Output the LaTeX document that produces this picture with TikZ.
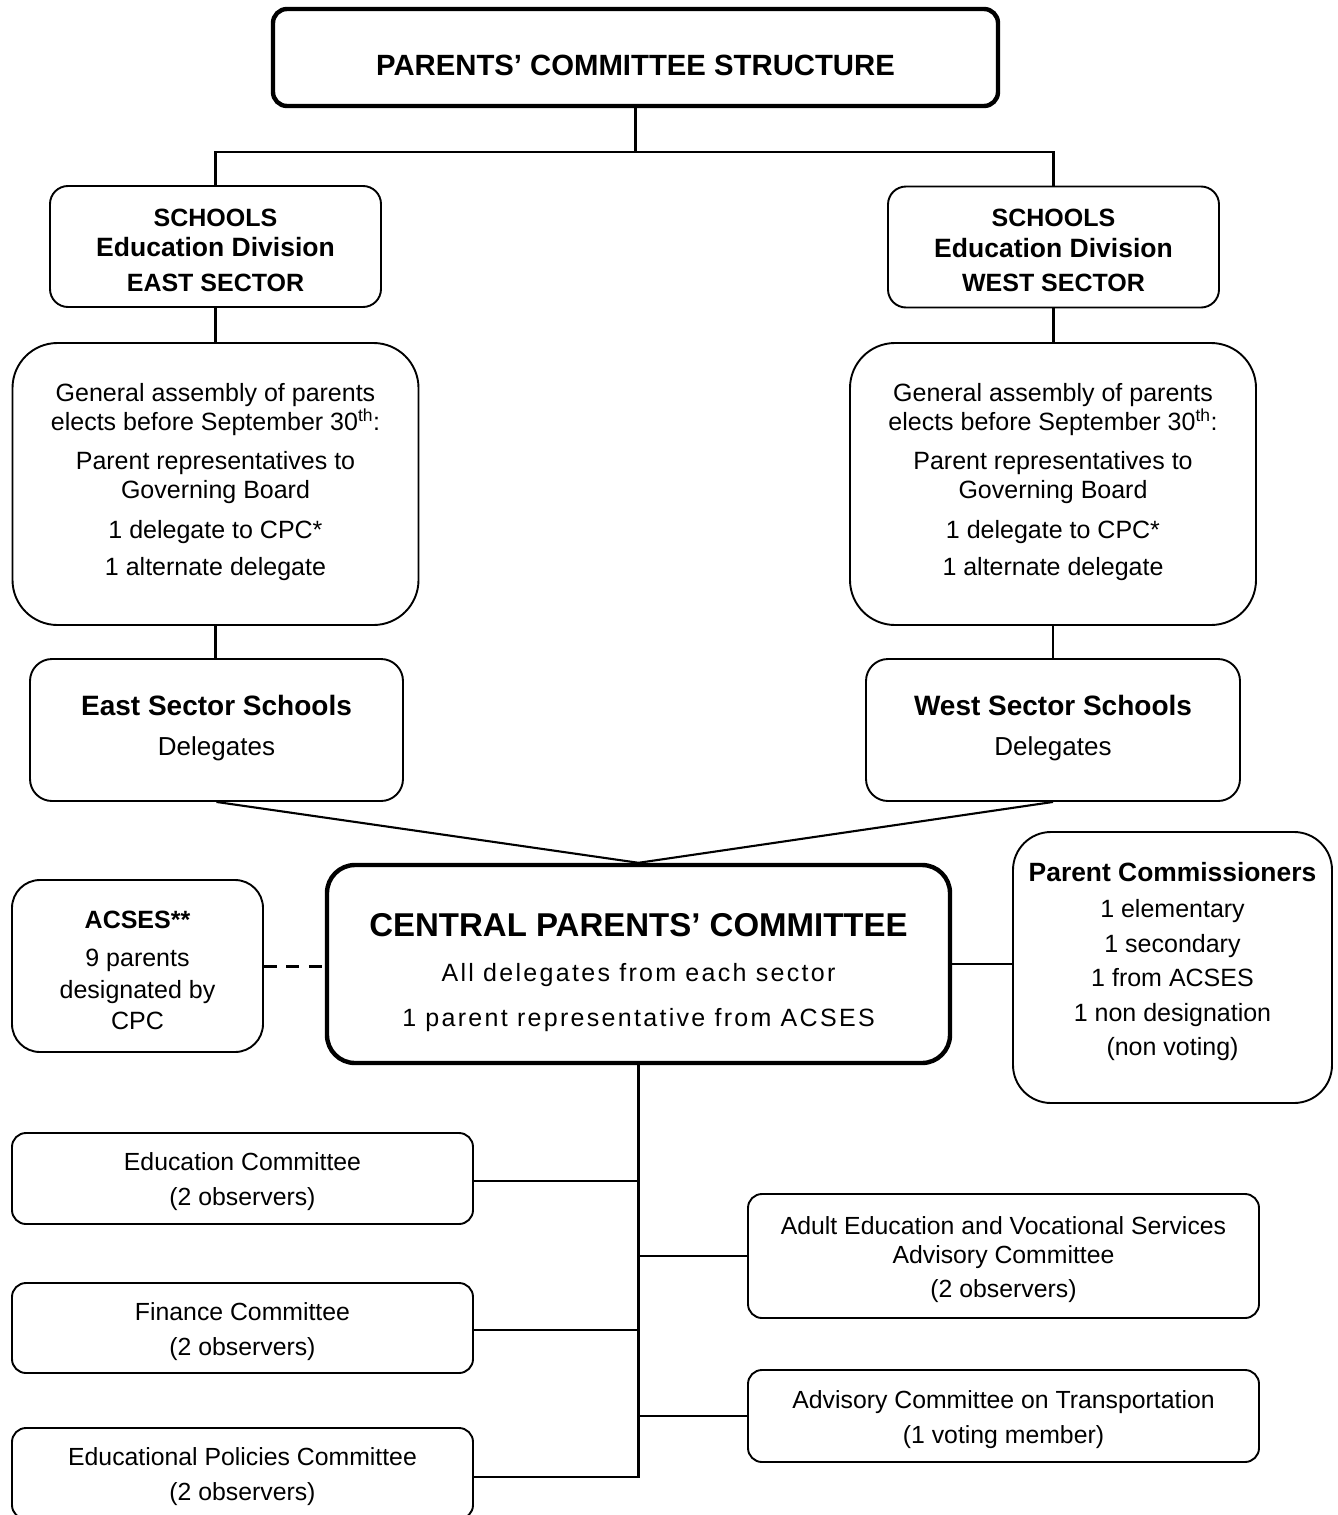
\documentclass[tikz,border=0pt]{standalone}
\usepackage{fontspec}
\setmainfont{Liberation Sans}
\newfontfamily\spacedfont[LetterSpace=9.2]{Liberation Sans}
\newcommand{\fs}[2]{\fontsize{#1}{#2}\selectfont}
\tikzset{
  bx/.style={draw, line width=1.9pt, rounded corners=#1, inner sep=0pt, align=center},
  bx/.default=14pt,
  heavy/.style={line width=4.4pt},
  conn/.style={line width=2.1pt},
}
\begin{document}
\begin{tikzpicture}[x=1pt,y=-1pt]
\useasboundingbox (0,0) rectangle (1338,1515);

% title
\node[bx=14pt, heavy, minimum width=725pt, minimum height=97pt, text height=36pt, text depth=0pt,
      font=\fs{29.3}{34}\bfseries] (title) at (635.5,57.5) {PARENTS’ COMMITTEE STRUCTURE};

% schools boxes
\node[bx=18pt, minimum width=331pt, minimum height=121pt, font=\fs{25}{30.5}\bfseries] (schE) at (215.5,246.5)
  {\rule{0pt}{25pt}SCHOOLS\\ {\fs{26.5}{30.5}Education Division}\\[4pt] EAST SECTOR};
\node[bx=18pt, minimum width=331pt, minimum height=121pt, font=\fs{25}{30.5}\bfseries] (schW) at (1053.5,247)
  {\rule{0pt}{25pt}SCHOOLS\\ {\fs{26.5}{30.5}Education Division}\\[4pt] WEST SECTOR};

% assembly boxes
\node[bx=45pt, minimum width=406pt, minimum height=282pt, font=\fs{25}{29}] (asmE) at (215.5,484)
  {General assembly of parents\\ elects before September 30\textsuperscript{th}:\\[10pt]
   Parent representatives to\\ Governing Board\\[11pt] 1 delegate to CPC*\\[8pt] 1 alternate delegate\rule[-9pt]{0pt}{0pt}};
\node[bx=45pt, minimum width=406pt, minimum height=282pt, font=\fs{25}{29}] (asmW) at (1053,484)
  {General assembly of parents\\ elects before September 30\textsuperscript{th}:\\[10pt]
   Parent representatives to\\ Governing Board\\[11pt] 1 delegate to CPC*\\[8pt] 1 alternate delegate\rule[-9pt]{0pt}{0pt}};

% sector schools
\node[bx=22pt, minimum width=373pt, minimum height=142pt, font=\fs{26}{40}] (secE) at (216.5,730)
  {{\fs{28}{40}\bfseries East Sector Schools}\\ Delegates\rule[-10pt]{0pt}{0pt}};
\node[bx=22pt, minimum width=374pt, minimum height=142pt, font=\fs{26}{40}] (secW) at (1053,730)
  {{\fs{28}{40}\bfseries West Sector Schools}\\ Delegates\rule[-10pt]{0pt}{0pt}};

% central committee
\node[bx=28pt, heavy, minimum width=623pt, minimum height=198pt, font=\fs{25}{45}] (cpc) at (638.5,964)
  {\rule{0pt}{41pt}{\fs{33}{45}\bfseries CENTRAL PARENTS’ COMMITTEE}\\[0pt]
   {\spacedfont All delegates from each sector}\\ {\spacedfont 1 parent representative from ACSES}};

% ACSES
\node[bx=28pt, minimum width=251pt, minimum height=172pt, font=\fs{25}{31.5}] (acses) at (137.5,966)
  {\rule{0pt}{26pt}{\bfseries ACSES**}\\[7pt] 9 parents\\ designated by\\ CPC};

% parent commissioners
\node[bx=38pt, minimum width=319pt, minimum height=271pt, font=\fs{25}{34.5}] (pc) at (1172.5,967.5)
  {{\fs{26.4}{34.5}\bfseries Parent Commissioners}\\[1.5pt] 1 elementary\\ 1 secondary\\ 1 from ACSES\\
   1 non designation\\ (non voting)\rule[-17pt]{0pt}{0pt}};

% committees
\node[bx=14pt, minimum width=461pt, minimum height=91pt, font=\fs{24.8}{35}] (eduC) at (242.5,1178.5)
  {\rule{0pt}{25pt}Education Committee\\ (2 observers)};
\node[bx=14pt, minimum width=461pt, minimum height=90pt, font=\fs{24.8}{35}] (finC) at (242.5,1328)
  {\rule{0pt}{25pt}Finance Committee\\ (2 observers)};
\node[bx=14pt, minimum width=461pt, minimum height=91pt, font=\fs{24.8}{35}] (polC) at (242.5,1473.5)
  {\rule{0pt}{25pt}Educational Policies Committee\\ (2 observers)};
\node[bx=14pt, minimum width=511pt, minimum height=124pt, font=\fs{24.8}{29}] (adC) at (1003.5,1256)
  {\rule{0pt}{25pt}Adult Education and Vocational Services\\ Advisory Committee\\[5pt] (2 observers)};
\node[bx=14pt, minimum width=511pt, minimum height=92pt, font=\fs{24.8}{35}] (trC) at (1003.5,1416)
  {\rule{0pt}{25pt}Advisory Committee on Transportation\\ (1 voting member)};

% connectors
\coordinate (hub) at (637,152);
\draw[conn] (title.south) -- (title.south |- hub);
\draw[conn] (schE.north) -- (schE.north |- hub) -- (schW.north |- hub) -- (schW.north);
\draw[conn] (schE.south) -- (schE.south |- asmE.north);
\draw[conn] (schW.south) -- (schW.south |- asmW.north);
\draw[conn] (asmE.south) -- (asmE.south |- secE.north);
\draw[conn] (asmW.south) -- (asmW.south |- secW.north);
\draw[conn] (secE.south) -- (cpc.north) -- (secW.south);
\draw[line width=3pt, dash pattern=on 13pt off 9.5pt] (acses.east) -- (acses.east -| cpc.west);
\draw[conn] (cpc.east) -- (cpc.east -| pc.west);
\draw[conn] (cpc.south) -- ([yshift=-3.5pt]cpc.south |- polC.east) -- ([yshift=-3.5pt]polC.east);
\draw[conn] ([yshift=-2.5pt]eduC.east) -- ([yshift=-2.5pt]eduC.east -| cpc.south);
\draw[conn] ([yshift=-2pt]finC.east) -- ([yshift=-2pt]finC.east -| cpc.south);
\draw[conn] (adC.west) -- (adC.west -| cpc.south);
\draw[conn] (trC.west) -- (trC.west -| cpc.south);
\end{tikzpicture}
\end{document}
